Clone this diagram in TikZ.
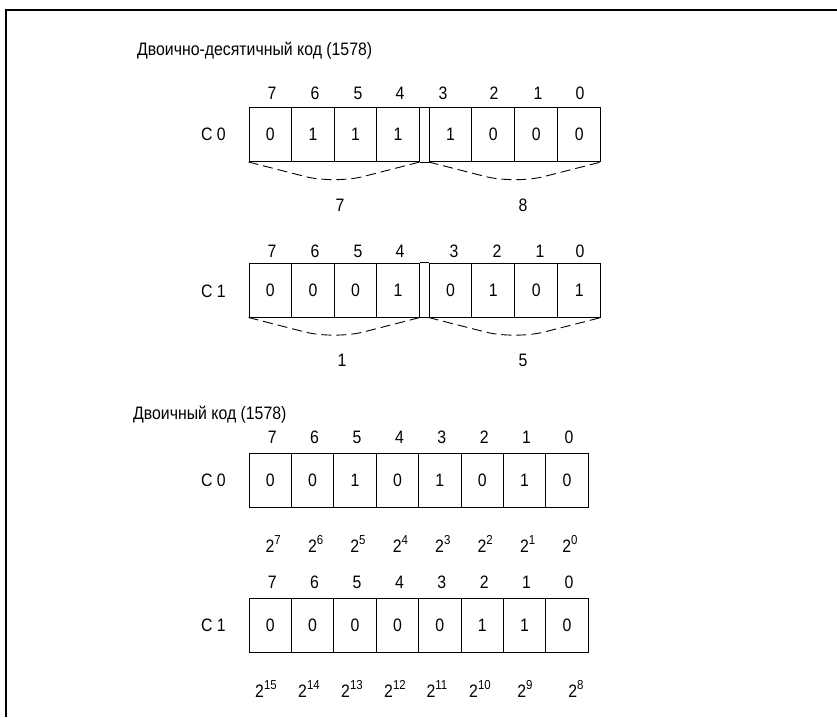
\documentclass[tikz,border=0pt]{standalone}
\usepackage{fontspec}
\setmainfont{Liberation Sans}[FakeStretch=0.88]
\usetikzlibrary{calc}
\newcommand{\pw}[1]{2\raisebox{0.42em}{\fontsize{13}{14}\selectfont #1}}
\begin{document}
\begin{tikzpicture}[x=1pt,y=-1pt,
  txt/.style={font=\fontsize{18}{20}\selectfont, inner sep=0pt},
  cell/.style={draw, line width=1pt, minimum width=42.6pt, minimum height=54pt, inner sep=0pt, font=\fontsize{18}{20}\selectfont},
  rcell/.style={cell, minimum width=42.9pt},
  bcell/.style={cell, minimum width=42.4pt},
  joint/.style={line width=1pt},
  brace/.style={line width=0.9pt, dash pattern=on 10pt off 5pt, rounded corners=30pt},
  frame/.style={line width=2pt}
]
\useasboundingbox (0,0) rectangle (837,717);
\coordinate (fbl) at (6,717);
\coordinate (ftl) at (6,10);
\coordinate (ftr) at (837,10);
\draw[frame] (fbl) -- (ftl) -- (ftr);

% ---------- BCD ----------
\node[txt, anchor=base west] (t1) at (137,56) {Двоично-десятичный код (1578)};

% C0 BCD
\node[txt, anchor=east] (la) at (226,134) {C 0};
\foreach \d/\x [count=\i] in {7/272,6/315,5/358,4/400,3/443,2/494,1/538,0/580}
  \node[txt] (ad\i) at (\x,93) {\d};
\foreach \v [count=\i] in {0,1,1,1}
  \node[cell] (aL\i) at ({249+42.6*(\i-0.5)},134.5) {\v};
\foreach \v [count=\i] in {1,0,0,0}
  \node[rcell] (aR\i) at ({429+42.9*(\i-0.5)},134.5) {\v};
\draw[joint] (aL4.north east) -- (aR1.north west);
\draw[joint] (aL4.south east) -- (aR1.south west);
\draw[brace] (aL1.south west) -- ($(aL1.south west)!0.5!(aL4.south east)+(0,22)$) -- (aL4.south east);
\draw[brace] (aR1.south west) -- ($(aR1.south west)!0.5!(aR4.south east)+(0,22)$) -- (aR4.south east);
\node[txt] (an7) at (340,205) {7};
\node[txt] (an8) at (523,205) {8};

% C1 BCD
\node[txt, anchor=east] (lb) at (226,291) {C 1};
\foreach \d/\x [count=\i] in {7/272,6/315,5/358,4/400,3/454,2/497,1/540,0/580}
  \node[txt] (bd\i) at (\x,251) {\d};
\foreach \v [count=\i] in {0,0,0,1}
  \node[cell] (bL\i) at ({249+42.6*(\i-0.5)},290) {\v};
\foreach \v [count=\i] in {0,1,0,1}
  \node[rcell] (bR\i) at ({429+42.9*(\i-0.5)},290) {\v};
\draw[joint] (bL4.north east) -- (bR1.north west);
\draw[joint] (bL4.south east) -- (bR1.south west);
\draw[brace] (bL1.south west) -- ($(bL1.south west)!0.5!(bL4.south east)+(0,22)$) -- (bL4.south east);
\draw[brace] (bR1.south west) -- ($(bR1.south west)!0.5!(bR4.south east)+(0,22)$) -- (bR4.south east);
\node[txt] (bn1) at (342,360) {1};
\node[txt] (bn5) at (523,360) {5};

% ---------- Binary ----------
\node[txt, anchor=base west] (t2) at (133,419) {Двоичный код (1578)};

% C0 binary
\node[txt, anchor=east] (lc) at (226,480) {C 0};
\foreach \d [count=\i] in {7,6,5,4,3,2,1,0}
  \node[txt] (cd\i) at ({249+42.4*(\i-0.5)+2},437) {\d};
\foreach \v [count=\i] in {0,0,1,0,1,0,1,0}
  \node[bcell] (c\i) at ({249+42.4*(\i-0.5)},480) {\v};
\foreach \e [count=\i] in {7,6,5,4,3,2,1,0}
  \node[txt, anchor=base] (cp\i) at ({249+42.4*(\i-0.5)+3},552) {\pw{\e}};

% C1 binary
\node[txt, anchor=east] (ld) at (226,625) {C 1};
\foreach \d [count=\i] in {7,6,5,4,3,2,1,0}
  \node[txt] (dd\i) at ({249+42.4*(\i-0.5)+2},582) {\d};
\foreach \v [count=\i] in {0,0,0,0,0,1,1,0}
  \node[bcell] (d\i) at ({249+42.4*(\i-0.5)},625.5) {\v};
\foreach \e/\x [count=\i] in {15/266,14/309,13/352,12/395,11/437,10/480,9/525,8/576}
  \node[txt, anchor=base] (dp\i) at (\x,697) {\pw{\e}};
\end{tikzpicture}
\end{document}
